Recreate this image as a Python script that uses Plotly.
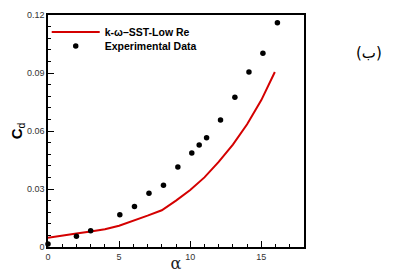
import plotly.graph_objects as go

# k-omega SST Low Re curve
alpha_sim = [0, 1, 2, 3, 4, 5, 6, 7, 8, 9, 10, 11, 12, 13, 14, 15, 15.95]
cd_sim = [0.0048, 0.0060, 0.0070, 0.0080, 0.0092, 0.0110, 0.0135, 0.0162, 0.0190,
          0.0240, 0.0295, 0.0360, 0.0440, 0.0530, 0.0635, 0.0760, 0.0905]

# Experimental data
alpha_exp = [0, 2.0, 3.0, 5.05, 6.08, 7.1, 8.12, 9.13, 10.11, 10.63, 11.15, 12.13,
             13.14, 14.13, 15.11, 16.13]
cd_exp = [0.0016, 0.0055, 0.0084, 0.0167, 0.0210, 0.0278, 0.0320, 0.0414, 0.0486,
          0.0528, 0.0565, 0.0657, 0.0774, 0.0905, 0.1002, 0.1160]

x_ticks = [0, 5, 10, 15]
y_ticks = [0, 0.03, 0.06, 0.09, 0.12]
y_ticklabels = ["0", "0.03", "0.06", "0.09", "0.12"]

fig = go.Figure()
fig.add_trace(go.Scatter(x=alpha_sim, y=cd_sim, mode="lines",
                         line=dict(color="#d40000", width=2),
                         name="<b>k-ω–SST-Low Re</b>", legend="legend"))
fig.add_trace(go.Scatter(x=alpha_exp, y=cd_exp, mode="markers",
                         marker=dict(color="black", size=5.5),
                         name="<b>Experimental Data</b>", cliponaxis=False,
                         legend="legend2"))

axis_common = dict(showgrid=False, zeroline=False, showline=True, linecolor="black",
                   linewidth=1.5, mirror=True, ticks="inside", ticklen=6,
                   tickwidth=1, tickcolor="black", automargin=False,
                   tickfont=dict(family="Liberation Sans, Arial", size=9, color="#333"))

fig.update_xaxes(range=[0, 18], tickvals=x_ticks,
                 minor=dict(dtick=1, ticks="inside", ticklen=3, tickcolor="black"),
                 title=dict(text="α", font=dict(family="DejaVu Serif, serif", size=16, color="#222"),
                            standoff=0),
                 **axis_common)
fig.update_yaxes(range=[0, 0.12], tickvals=y_ticks, ticktext=y_ticklabels,
                 minor=dict(dtick=0.006, ticks="inside", ticklen=3, tickcolor="black"),
                 title=dict(text="<b>C</b><sub>d</sub>",
                            font=dict(family="Liberation Sans, Arial", size=15, color="black"),
                            standoff=4),
                 **axis_common)

fig.add_annotation(text="(ب)", xref="paper", yref="paper", x=1.255, y=0.836,
                   xanchor="center", yanchor="middle",
                   showarrow=False, font=dict(family="DejaVu Sans", size=15, color="black"))

leg_common = dict(xanchor="left", yanchor="middle", bgcolor="rgba(0,0,0,0)",
                  itemwidth=48, borderwidth=0,
                  font=dict(family="Liberation Sans, Arial", size=10.5, color="black"))

# page body has an 8px default margin: figure is sized/offset to compensate
fig.update_layout(
    width=395, height=265,
    margin=dict(l=40, r=99, t=7, b=26),
    plot_bgcolor="white", paper_bgcolor="white",
    showlegend=True,
    legend=dict(x=-0.005, y=(247 - 32) / 232, **leg_common),
    legend2=dict(x=-0.005, y=(247 - 46) / 232, **leg_common),
)

fig.write_html("out.html")
